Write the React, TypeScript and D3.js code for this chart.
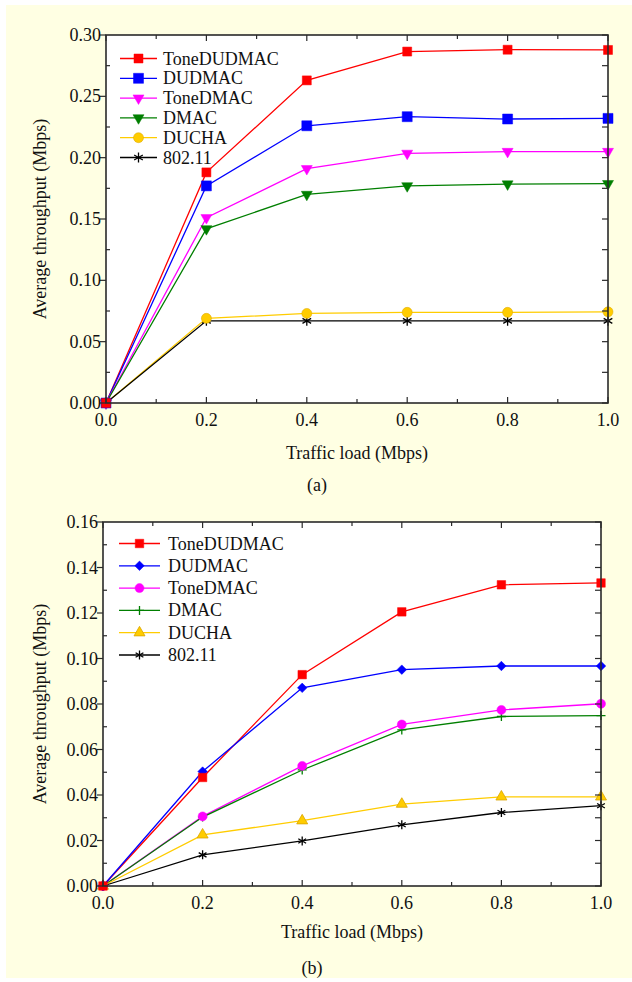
import * as d3 from 'd3'

const loads = [0, 0.2, 0.4, 0.6, 0.8, 1.0]
const xTicks = [0, 0.2, 0.4, 0.6, 0.8, 1.0]
const xMinor = [0.1, 0.3, 0.5, 0.7, 0.9]
const protocols = ['ToneDUDMAC', 'DUDMAC', 'ToneDMAC', 'DMAC', 'DUCHA', '802.11']
const colors = ['#ff0000', '#0000ff', '#ff00ff', '#007f00', '#ffcc00', '#000000']

// (a)
const toneDudmacA = [0, 0.188, 0.263, 0.2865, 0.288, 0.2878]
const dudmacA = [0, 0.177, 0.226, 0.2334, 0.2315, 0.232]
const toneDmacA = [0, 0.151, 0.191, 0.2035, 0.205, 0.205]
const dmacA = [0, 0.142, 0.17, 0.177, 0.1785, 0.1788]
const duchaA = [0, 0.069, 0.073, 0.0739, 0.0739, 0.0743]
const ieeeA = [0, 0.067, 0.067, 0.067, 0.067, 0.067]
const yTicksA = [0, 0.05, 0.1, 0.15, 0.2, 0.25, 0.3]
const yMinorA = [0.025, 0.075, 0.125, 0.175, 0.225, 0.275]
const markersA = ['square', 'square', 'triDown', 'triDown', 'circle', 'asterisk']

// (b)
const toneDudmacB = [0, 0.0477, 0.0929, 0.1205, 0.1324, 0.1332]
const dudmacB = [0, 0.0503, 0.0871, 0.0951, 0.0967, 0.0967]
const toneDmacB = [0, 0.0306, 0.0528, 0.071, 0.0774, 0.0801]
const dmacB = [0, 0.0303, 0.051, 0.0686, 0.0745, 0.0749]
const duchaB = [0, 0.0225, 0.0287, 0.036, 0.0392, 0.0392]
const ieeeB = [0, 0.0137, 0.0198, 0.0269, 0.0323, 0.0353]
const yTicksB = [0, 0.02, 0.04, 0.06, 0.08, 0.1, 0.12, 0.14, 0.16]
const yMinorB = [0.01, 0.03, 0.05, 0.07, 0.09, 0.11, 0.13, 0.15]
const markersB = ['square', 'diamond', 'circle', 'plus', 'triUp', 'asterisk']

const FONT = "'Liberation Serif', 'DejaVu Serif', serif"
const AXIS = '#2a2a2a'

function marker(shape, s) {
  // returns [path, stroked]
  if (shape === 'square') return [d3.symbol(d3.symbolSquare, s * s)(), false]
  if (shape === 'diamond') return [d3.symbol(d3.symbolSquare, s * s * 0.5)(), false]
  if (shape === 'circle') return [d3.symbol(d3.symbolCircle, Math.PI * s * s / 4)(), false]
  if (shape === 'triUp' || shape === 'triDown') return [d3.symbol(d3.symbolTriangle, Math.sqrt(3) / 4 * s * s)(), false]
  const p = d3.path()
  const r = s / 2
  if (shape === 'plus') {
    p.moveTo(-r, 0); p.lineTo(r, 0)
    p.moveTo(0, -r); p.lineTo(0, r)
  } else {
    for (const a of [90, 30, 150]) {
      const t = a * Math.PI / 180
      p.moveTo(-r * Math.cos(t), -r * Math.sin(t))
      p.lineTo(r * Math.cos(t), r * Math.sin(t))
    }
  }
  return [p.toString(), true]
}

function Marker({ shape, x, y, s, color }) {
  const [d, stroked] = marker(shape, s)
  let rot = ''
  if (shape === 'triDown') rot = ' rotate(180)'
  if (shape === 'diamond') rot = ' rotate(45)'
  const tr = `translate(${x},${y})${rot}`
  if (stroked) return <path d={d} transform={tr} fill="none" stroke={color} strokeWidth={1.3} />
  const edge = color === '#ffcc00' ? '#d9a400' : color
  return <path d={d} transform={tr} fill={color} stroke={edge} strokeWidth={shape === 'triUp' ? 0.8 : 0.5} />
}

function Panel({ series, markers, sizes, box, yMax, yTicks, yMinor, fmt, legend, caption, tickSize, titleGap }) {
  const x = d3.scaleLinear().domain([0, 1]).range([box.l, box.r])
  const y = d3.scaleLinear().domain([0, yMax]).range([box.b, box.t])
  const line = d3.line().x((d, i) => x(loads[i])).y(d => y(d))
  const order = [5, 4, 3, 2, 1, 0]
  return (
    <g fill="#111">
      <rect x={box.l} y={box.t} width={box.r - box.l} height={box.b - box.t} fill="#fff" />
      {series.map((s, i) => (
        <path key={'l' + i} d={line(s)} fill="none" stroke={colors[i]} strokeWidth={1.3} />
      ))}
      {order.map(i => series[i].map((v, j) => (
        <Marker key={'m' + i + '-' + j} shape={markers[i]} x={x(loads[j])} y={y(v)} s={sizes[i]} color={colors[i]} />
      )))}
      {/* frame */}
      <rect x={box.l} y={box.t} width={box.r - box.l} height={box.b - box.t} fill="none" stroke={AXIS} strokeWidth={1.6} />
      {xTicks.map(t => (
        <g key={'xt' + t}>
          <line x1={x(t)} x2={x(t)} y1={box.b} y2={box.b - 6} stroke={AXIS} strokeWidth={1.2} />
          <line x1={x(t)} x2={x(t)} y1={box.t} y2={box.t + 6} stroke={AXIS} strokeWidth={1.2} />
          <text x={x(t)} y={box.b + 23} textAnchor="middle" fontSize={tickSize}>{t.toFixed(1)}</text>
        </g>
      ))}
      {xMinor.map(t => (
        <g key={'xm' + t}>
          <line x1={x(t)} x2={x(t)} y1={box.b} y2={box.b - 4} stroke={AXIS} strokeWidth={1.2} />
          <line x1={x(t)} x2={x(t)} y1={box.t} y2={box.t + 4} stroke={AXIS} strokeWidth={1.2} />
        </g>
      ))}
      {yTicks.map(t => (
        <g key={'yt' + t}>
          <line x1={box.l - 6} x2={box.l} y1={y(t)} y2={y(t)} stroke={AXIS} strokeWidth={1.2} />
          <line x1={box.r - 6} x2={box.r} y1={y(t)} y2={y(t)} stroke={AXIS} strokeWidth={1.2} />
          <text x={box.l - 5} y={y(t) + 6} textAnchor="end" fontSize={tickSize}>{fmt(t)}</text>
        </g>
      ))}
      {yMinor.map(t => (
        <g key={'ym' + t}>
          <line x1={box.l} x2={box.l + 4} y1={y(t)} y2={y(t)} stroke={AXIS} strokeWidth={1.2} />
          <line x1={box.r - 6} x2={box.r} y1={y(t)} y2={y(t)} stroke={AXIS} strokeWidth={1.2} />
        </g>
      ))}
      {/* legend */}
      {protocols.map((name, i) => {
        const ly = legend.y + i * legend.dy
        return (
          <g key={'lg' + i}>
            <line x1={legend.x1} x2={legend.x2} y1={ly} y2={ly} stroke={colors[i]} strokeWidth={1.3} />
            <Marker shape={markers[i]} x={(legend.x1 + legend.x2) / 2} y={ly} s={sizes[i]} color={colors[i]} />
            <text x={legend.tx} y={ly + 6} fontSize={18}>{name}</text>
          </g>
        )
      })}
      <text transform={`translate(46,${(box.t + box.b) / 2}) rotate(-90)`} textAnchor="middle" fontSize={18}>
        Average throughput (Mbps)
      </text>
      <text x={(box.l + box.r) / 2} y={box.b + titleGap} textAnchor="middle" fontSize={18}>Traffic load (Mbps)</text>
      <text x={(box.l + box.r) / 2 - 40} y={box.b + 88} textAnchor="middle" fontSize={18}>{caption}</text>
    </g>
  )
}

export default function App() {
  const fmt2 = d3.format('.2f')
  return (
    <svg width={632} height={982} style={{ position: 'absolute', left: 0, top: 0, fontFamily: FONT }}>
      <rect x={0} y={0} width={632} height={982} fill="#fff" />
      <rect x={6} y={5} width={626} height={973} fill="#ffffe3" />
      <Panel
        series={[toneDudmacA, dudmacA, toneDmacA, dmacA, duchaA, ieeeA]}
        markers={markersA}
        sizes={[9, 10, 11, 11, 10, 10]}
        box={{ l: 106, r: 608, t: 35, b: 403 }}
        yMax={0.3}
        yTicks={yTicksA}
        yMinor={yMinorA}
        fmt={fmt2}
        legend={{ x1: 120, x2: 157, tx: 163, y: 58.5, dy: 19.8 }}
        caption="(a)"
        tickSize={18}
        titleGap={56}
      />
      <Panel
        series={[toneDudmacB, dudmacB, toneDmacB, dmacB, duchaB, ieeeB]}
        markers={markersB}
        sizes={[8.5, 9.5, 9, 9, 11, 9]}
        box={{ l: 103, r: 601, t: 522, b: 886 }}
        yMax={0.16}
        yTicks={yTicksB}
        yMinor={yMinorB}
        fmt={fmt2}
        legend={{ x1: 119, x2: 160, tx: 168, y: 543.5, dy: 22.3 }}
        caption="(b)"
        tickSize={18}
        titleGap={52}
      />
    </svg>
  )
}
